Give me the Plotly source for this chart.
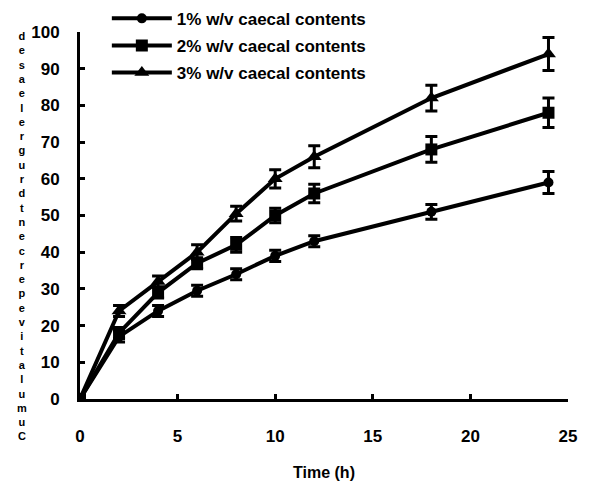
import plotly.graph_objects as go

time_h = [0, 2, 4, 6, 8, 10, 12, 18, 24]
s1 = [0, 17, 24, 29.5, 34, 39, 43, 51, 59]
s1_err = [0, 1.5, 1.5, 1.5, 1.5, 1.5, 1.5, 2, 3]
s2 = [0, 18, 29, 37, 42, 50, 56, 68, 78]
s2_err = [0, 1.5, 1.5, 1.5, 2, 2, 2.5, 3.5, 4]
s3 = [0, 24, 32, 40, 50.5, 60, 66, 82, 94]
s3_err = [0, 1.5, 1.5, 2, 2, 2.5, 3, 3.5, 4.5]
names = ["1% w/v caecal contents", "2% w/v caecal contents", "3% w/v caecal contents"]
symbols = ["circle", "square", "triangle-up"]
sizes = [10, 12, 13]
x_ticks = [0, 5, 10, 15, 20, 25]
y_ticks = [0, 10, 20, 30, 40, 50, 60, 70, 80, 90, 100]
y_label = "Cumulative percent drug released"

FONT = "Liberation Sans"
fig = go.Figure()
for i, (ys, es, nm, sym, sz) in enumerate(zip([s1, s2, s3], [s1_err, s2_err, s3_err], names, symbols, sizes)):
    fig.add_trace(go.Scatter(
        x=time_h, y=ys, name=nm, mode="lines+markers", legendgroup=f"g{i}",
        line=dict(color="black", width=4),
        marker=dict(symbol=sym, size=sz, color="black"),
        error_y=dict(type="data", array=es, visible=True, color="black", thickness=3, width=6),
    ))

stacked = "<br>".join(ch for ch in reversed(y_label) if ch != " ")
fig.add_annotation(text="<b>" + stacked + "</b>", xref="paper", yref="paper",
                   x=-0.118, y=0.444, xanchor="center", yanchor="middle", showarrow=False,
                   font=dict(family=FONT, size=11, color="black", weight="bold"))

fig.update_layout(
    width=599, height=476,
    margin=dict(l=72, r=39, t=24, b=85, autoexpand=False),
    paper_bgcolor="white", plot_bgcolor="white",
    font=dict(family=FONT, color="black"),
    showlegend=True,
    legend=dict(x=0.055, y=1.085, xanchor="left", yanchor="top",
                bgcolor="rgba(0,0,0,0)", itemwidth=60,
                font=dict(family=FONT, size=17, color="black", weight="bold"),
                tracegroupgap=2),
    xaxis=dict(range=[0, 25], tickvals=x_ticks, showgrid=False, zeroline=False,
               showline=True, linecolor="black", linewidth=3,
               ticks="inside", ticklen=5, tickwidth=3, tickcolor="black",
               ticklabelstandoff=20,
               tickfont=dict(family=FONT, size=17, color="black", weight="bold"),
               title=dict(text="<b>Time (h)</b>", font=dict(family=FONT, size=16, color="black"), standoff=22)),
    yaxis=dict(range=[0, 100], tickvals=y_ticks, showgrid=False, zeroline=False,
               showline=True, linecolor="black", linewidth=3,
               ticks="inside", ticklen=5, tickwidth=3, tickcolor="black",
               ticklabelstandoff=14,
               tickfont=dict(family=FONT, size=17, color="black", weight="bold")),
)
fig.write_html("out.html")
